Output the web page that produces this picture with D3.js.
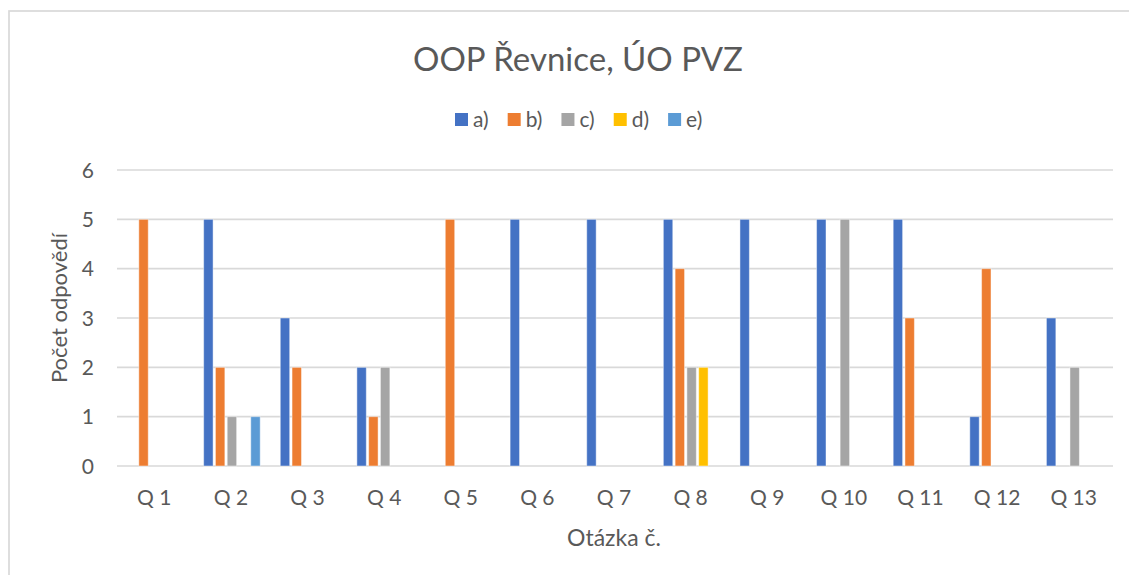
<!DOCTYPE html>
<html>
<head>
<meta charset="utf-8">
<script src="https://cdn.jsdelivr.net/npm/d3@7"></script>
<style>
  html, body { margin: 0; padding: 0; background: #fff; }
  svg { display: block; font-family: Lato, "Open Sans", sans-serif; }
</style>
</head>
<body>
<script>
const categories = ["Q 1", "Q 2", "Q 3", "Q 4", "Q 5", "Q 6", "Q 7", "Q 8", "Q 9", "Q 10", "Q 11", "Q 12", "Q 13"];
const seriesNames = ["a)", "b)", "c)", "d)", "e)"];
const seriesA = [0, 5, 3, 2, 0, 5, 5, 5, 5, 5, 5, 1, 3];
const seriesB = [5, 2, 2, 1, 5, 0, 0, 4, 0, 0, 3, 4, 0];
const seriesC = [0, 1, 0, 2, 0, 0, 0, 2, 0, 5, 0, 0, 2];
const seriesD = [0, 0, 0, 0, 0, 0, 0, 2, 0, 0, 0, 0, 0];
const seriesE = [0, 1, 0, 0, 0, 0, 0, 0, 0, 0, 0, 0, 0];
const yTicks = [0, 1, 2, 3, 4, 5, 6];
const colors = ["#4472C4", "#ED7D31", "#A5A5A5", "#FFC000", "#5B9BD5"];

const allSeries = [seriesA, seriesB, seriesC, seriesD, seriesE];
const width = 1129, height = 575;
const marginLeft = 117, marginRight = 16, yTop = 170, yBottom = 466;
const textColor = "#595959";

const svg = d3.select("body").append("svg")
  .attr("width", width)
  .attr("height", height)
  .attr("viewBox", [0, 0, width, height]);

// chart frame
svg.append("rect")
  .attr("x", 9).attr("y", 11)
  .attr("width", width + 20).attr("height", height + 20)
  .attr("fill", "#fff")
  .attr("stroke", "#d9d9d9")
  .attr("stroke-width", 1.7);

const x0 = d3.scaleBand()
  .domain(categories)
  .range([marginLeft, width - marginRight])
  .paddingInner(0.262)
  .paddingOuter(0.131);

const x1 = d3.scaleBand()
  .domain(seriesNames)
  .range([0, x0.bandwidth()])
  .paddingInner(0.2);

const y = d3.scaleLinear().domain([0, 6]).range([yBottom, yTop]);

// gridlines
svg.append("g")
  .selectAll("line")
  .data(yTicks)
  .join("line")
  .attr("x1", marginLeft)
  .attr("x2", width - marginRight)
  .attr("y1", (d) => y(d))
  .attr("y2", (d) => y(d))
  .attr("stroke", "#d9d9d9")
  .attr("stroke-width", 1.6);

// y tick labels
svg.append("g")
  .selectAll("text")
  .data(yTicks)
  .join("text")
  .attr("x", 94)
  .attr("y", (d) => y(d))
  .attr("dy", "0.36em")
  .attr("text-anchor", "end")
  .attr("fill", textColor)
  .attr("font-size", 21)
  .text((d) => d);

// bars
const rows = categories.map((c, i) => ({ cat: c, values: seriesNames.map((s, j) => ({ s, j, v: allSeries[j][i] })) }));

svg.append("g")
  .selectAll("g")
  .data(rows)
  .join("g")
  .attr("transform", (d) => `translate(${x0(d.cat)},0)`)
  .selectAll("rect")
  .data((d) => d.values.filter((e) => e.v > 0))
  .join("rect")
  .attr("x", (d) => x1(d.s))
  .attr("y", (d) => y(d.v))
  .attr("width", x1.bandwidth())
  .attr("height", (d) => y(0) - y(d.v))
  .attr("fill", (d) => colors[d.j])
  .attr("stroke", "#ffffff")
  .attr("stroke-opacity", 0.45)
  .attr("stroke-width", 1);

// x tick labels
svg.append("g")
  .selectAll("text")
  .data(categories)
  .join("text")
  .attr("x", (d) => x0(d) + x0.bandwidth() / 2 - 1)
  .attr("y", 505)
  .attr("text-anchor", "middle")
  .attr("fill", textColor)
  .attr("font-size", 21)
  .text((d) => d);

// title
svg.append("text")
  .attr("x", 578)
  .attr("y", 71)
  .attr("text-anchor", "middle")
  .attr("fill", textColor)
  .attr("font-size", 33)
  .text("OOP Řevnice, ÚO PVZ");

// axis titles
svg.append("text")
  .attr("x", 614)
  .attr("y", 546)
  .attr("text-anchor", "middle")
  .attr("fill", textColor)
  .attr("font-size", 23)
  .text("Otázka č.");

svg.append("text")
  .attr("transform", "translate(67,308) rotate(-90)")
  .attr("text-anchor", "middle")
  .attr("fill", textColor)
  .attr("font-size", 22)
  .text("Počet odpovědí");

// legend
const legend = svg.append("g");
let lx = 455;
seriesNames.forEach((name, i) => {
  const item = legend.append("g").attr("transform", `translate(${lx},0)`);
  item.append("rect")
    .attr("x", 0).attr("y", 113)
    .attr("width", 13).attr("height", 13)
    .attr("fill", colors[i]);
  const t = item.append("text")
    .attr("x", 18)
    .attr("y", 119)
    .attr("dy", "0.36em")
    .attr("fill", textColor)
    .attr("font-size", 21)
    .text(name);
  lx += 18 + t.node().getComputedTextLength() + 19;
});
</script>
</body>
</html>
